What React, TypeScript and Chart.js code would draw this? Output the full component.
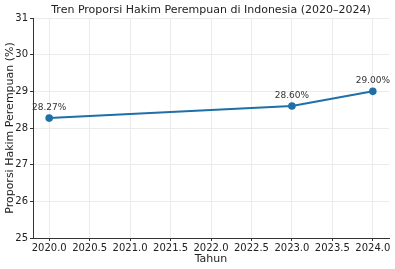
import React, { useEffect, useRef } from "react";
import { Chart, registerables } from "chart.js";

Chart.register(...registerables);

const years = [2020, 2023, 2024];
const proportions = [28.27, 28.6, 29.0];
const pointLabels = ["28.27%", "28.60%", "29.00%"];
const chartTitle = "Tren Proporsi Hakim Perempuan di Indonesia (2020–2024)";
const xTitle = "Tahun";
const yTitle = "Proporsi Hakim Perempuan (%)";

const FONT = "'DejaVu Sans', sans-serif";

const labelPlugin = {
  id: "pointLabels",
  afterDatasetsDraw(chart: any) {
    const ctx = chart.ctx;
    const meta = chart.getDatasetMeta(0);
    ctx.save();
    ctx.font = `9px ${FONT}`;
    ctx.fillStyle = "#333333";
    ctx.textAlign = "center";
    ctx.textBaseline = "alphabetic";
    meta.data.forEach((pt: any, i: number) => {
      ctx.fillText(pointLabels[i], pt.x, pt.y - 8);
    });
    ctx.restore();
  },
};

const titlePlugin = {
  id: "customTitle",
  afterDraw(chart: any) {
    const ctx = chart.ctx;
    ctx.save();
    ctx.font = `11px ${FONT}`;
    ctx.fillStyle = "#222222";
    ctx.textAlign = "center";
    ctx.textBaseline = "middle";
    const ca = chart.chartArea;
    ctx.fillText(chartTitle, (ca.left + ca.right) / 2, 10);
    ctx.restore();
  },
};

export default function App() {
  const ref = useRef<HTMLCanvasElement>(null);
  useEffect(() => {
    document.body.style.margin = "0";
    const chart = new Chart(ref.current!, {
      type: "line",
      data: {
        datasets: [
          {
            data: years.map((y, i) => ({ x: y, y: proportions[i] })),
            borderColor: "#1f6fa8",
            backgroundColor: "#1f6fa8",
            borderWidth: 2,
            pointRadius: 2.8,
            pointHoverRadius: 2.8,
            tension: 0,
          },
        ],
      },
      options: {
        animation: false,
        responsive: false,
        layout: { padding: { top: 18, right: 6, left: 0, bottom: 0 } },
        plugins: { legend: { display: false }, tooltip: { enabled: false }, title: { display: false } },
        scales: {
          x: {
            type: "linear",
            min: 2019.8,
            max: 2024.2,
            afterBuildTicks(scale: any) {
              const t = [];
              for (let v = 2020; v <= 2024.001; v += 0.5) t.push({ value: v });
              scale.ticks = t;
            },
            afterFit(scale: any) {
              scale.height = 31;
            },
            ticks: {
              font: { family: FONT, size: 10 },
              color: "#222",
              padding: 1,
              maxRotation: 0,
              autoSkip: false,
              callback: (v: any) => Number(v).toFixed(1),
            },
            grid: { color: "#ebebeb", tickColor: "#333", tickLength: 3, lineWidth: 1 },
            border: { color: "#333", width: 1 },
            title: { display: true, text: xTitle, font: { family: FONT, size: 11 }, color: "#222", padding: { top: 0, bottom: 3 } },
          },
          y: {
            min: 25,
            max: 31,
            afterFit(scale: any) {
              scale.width = 33;
            },
            ticks: { stepSize: 1, font: { family: FONT, size: 10 }, color: "#222", padding: 2 },
            grid: { color: "#ebebeb", tickColor: "#333", tickLength: 3, lineWidth: 1 },
            border: { color: "#333", width: 1 },
            title: { display: true, text: yTitle, font: { family: FONT, size: 11 }, color: "#222", padding: { top: 4, bottom: 0 } },
          },
        },
      },
      plugins: [labelPlugin, titlePlugin],
    } as any);
    return () => chart.destroy();
  }, []);
  return (
    <div style={{ width: 395, height: 269, background: "#fff" }}>
      <canvas ref={ref} width={395} height={269} />
    </div>
  );
}
